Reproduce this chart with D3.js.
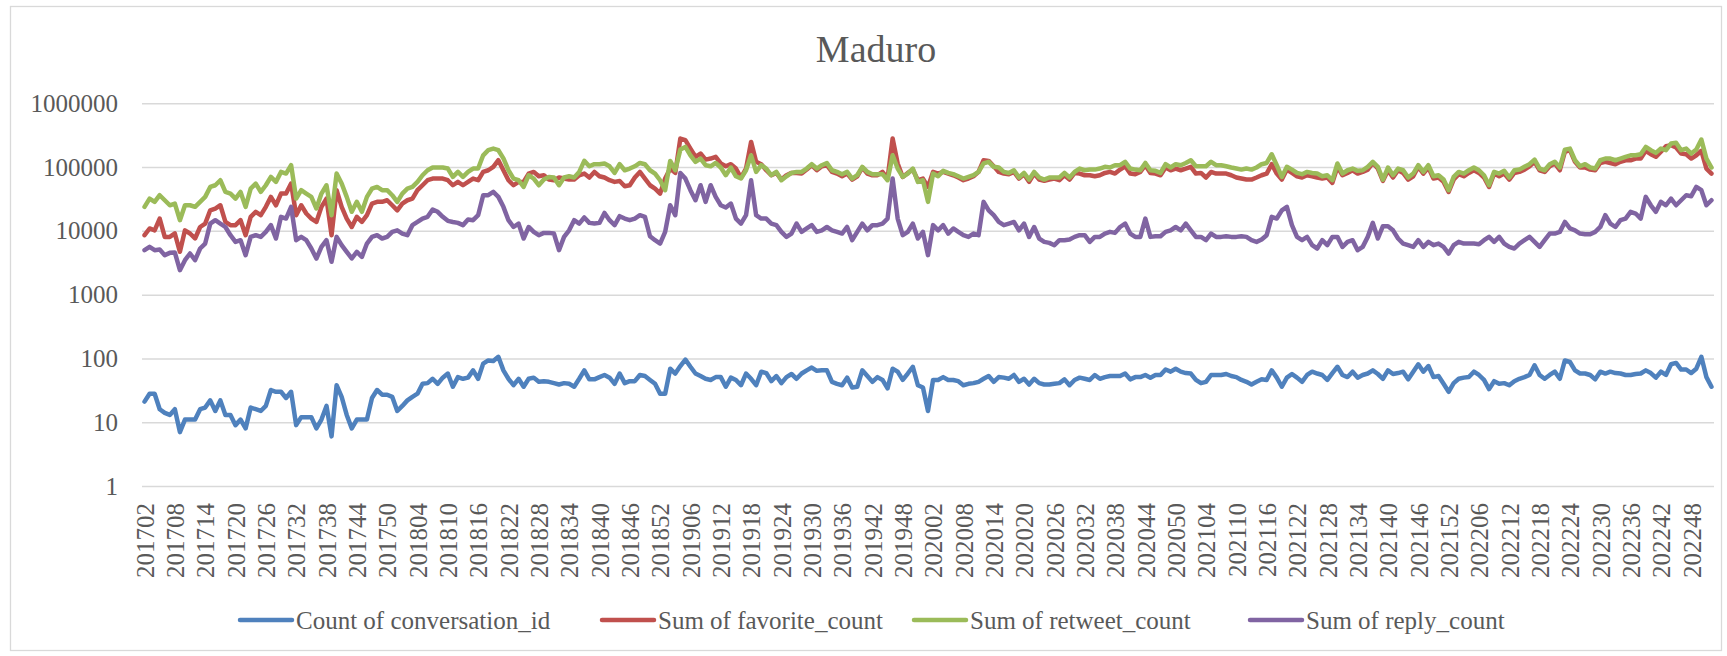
<!DOCTYPE html>
<html>
<head>
<meta charset="utf-8">
<script src="https://cdn.jsdelivr.net/npm/d3@7"></script>
<style>
  body { margin: 0; background: #fff; }
  svg text { font-family: "Liberation Serif", "Times New Roman", serif; fill: #595959; }
</style>
</head>
<body>
<div id="chart"></div>
<script>
// weeks present in the pivot table: [year, first week, last week]
var weekRanges = [[2017, 2, 52], [2018, 1, 52], [2019, 1, 52], [2020, 1, 52], [2021, 1, 52], [2022, 1, 52]];

var tickLabels = ['201702','201708','201714','201720','201726','201732','201738','201744','201750',
  '201804','201810','201816','201822','201828','201834','201840','201846','201852',
  '201906','201912','201918','201924','201930','201936','201942','201948',
  '202002','202008','202014','202020','202026','202032','202038','202044','202050',
  '202104','202110','202116','202122','202128','202134','202140','202146','202152',
  '202206','202212','202218','202224','202230','202236','202242','202248'];

var yTicks = [1, 10, 100, 1000, 10000, 100000, 1000000];

var seriesNames = ['Count of conversation_id', 'Sum of favorite_count', 'Sum of retweet_count', 'Sum of reply_count'];

var conversationCount = [21,28,28,16,14,13,16,7,11,11,11,16,17,22,15,22,13,13,9,11,8,17,16,15,18,32,30,30,24,30,9,12,12,12,8,11,18,6,38,
  25,13,8,11,11,11,24,32,27,27,25,15,18,22,25,28,40,41,48,40,50,58,36,51,48,50,65,48,83,93,91,106,65,48,38,48,36,48,50,
  43,
  44,43,41,39,41,40,36,48,65,47,47,51,55,50,40,58,41,44,44,55,53,46,40,28,28,69,58,76,96,74,58,53,48,46,51,51,36,50,46,
  38,58,48,38,62,59,44,53,41,51,57,48,58,65,72,64,65,65,43,40,38,50,35,36,65,53,43,51,46,34,69,62,46,58,74,38,35,15,46,46,
  51,46,46,44,38,40,41,43,48,53,43,51,50,48,55,43,48,39,48,41,39,39,40,41,47,38,46,50,48,46,55,48,51,53,53,53,58,47,51,
  51,55,50,55,55,67,62,69,62,59,58,46,41,43,55,55,55,57,53,51,46,43,39,43,47,46,65,50,36,50,57,50,43,55,62,58,55,46,59,74,
  55,51,62,50,55,58,65,57,48,65,57,59,62,47,62,81,62,76,51,53,40,30,41,48,50,51,62,55,46,33,44,40,41,38,44,48,51,55,78,
  55,48,55,62,48,93,88,65,58,58,55,47,62,58,62,59,58,55,55,57,58,65,59,50,62,55,81,85,67,67,59,69,106,51,36];

var favoriteSum = [8550,10900,10200,15600,8050,8050,9100,4700,10200,9100,7600,11500,13000,21000,22400,25200,13800,12300,12300,14700,8550,16600,19900,17600,23800,34100,25200,38400,38400,55200,17600,25200,18700,15600,13800,23800,32100,8550,43400,
  23800,15600,11500,16600,13800,17600,26800,28500,28500,30200,25200,21000,26800,30200,32100,43400,51900,62200,66100,66100,66100,62200,51900,58600,51900,58600,66100,62200,84000,89200,101000,128000,89200,62200,51900,58600,58600,79100,84000,
  71800,
  74500,63700,62200,68600,66100,63700,63700,74500,79100,68600,84000,71800,68600,62200,58600,60500,50000,51900,68600,84000,66100,51900,46000,38400,66100,94800,81000,280000,264000,195000,145000,163000,131000,136000,145000,114000,103000,111000,94800,
  68600,94800,248000,121000,111000,89200,74500,81000,63700,74500,81000,81000,79100,91300,107000,89200,103000,107000,84000,79100,71800,79100,63700,71800,98500,79100,74500,74500,84000,66100,280000,114000,70100,81000,91300,62200,66100,48900,84000,79100,
  84000,79100,74500,68600,62200,66100,71800,84000,128000,125000,103000,84000,79100,77400,84000,66100,77400,58600,79100,63700,60800,63700,66100,62200,74500,63700,81000,79100,74500,74500,71800,74500,81000,84000,79100,91300,103000,79100,77400,
  84000,107000,81000,79100,74500,98500,89200,94800,89200,94800,101000,79100,81000,68600,84000,79100,79100,79100,74500,68600,66100,63700,63700,68600,74500,79100,111000,79100,63700,91300,81000,71800,68600,74500,71800,68600,66100,68600,56500,101000,
  74500,81000,89200,79100,84000,91300,116000,94800,60800,89200,68600,89200,81000,63700,71800,101000,79100,98500,66100,68600,58600,40800,63700,77400,71800,81000,89200,81000,68600,48900,79100,71800,79100,63700,81000,84000,91300,103000,121000,
  89200,84000,103000,114000,89200,174000,184000,121000,98500,98500,91300,89200,116000,121000,116000,111000,121000,128000,128000,136000,136000,180000,159000,145000,174000,213000,221000,203000,163000,159000,136000,153000,180000,94800,79100];

var retweetSum = [23800,32100,28500,36200,30200,25200,26800,14700,25200,25200,23800,28500,34100,48900,51900,62200,40800,38400,32100,40800,23800,46000,55200,40800,51900,70100,58600,84000,79100,107000,32100,43400,38400,34100,22400,38400,51900,17600,79100,
  55200,34100,19900,28500,19900,34100,46000,48900,43400,43400,36200,28500,38400,46000,48900,58600,74500,89200,98500,98500,98500,94800,70100,84000,70100,84000,94800,94800,153000,184000,195000,184000,137000,89200,66100,62200,48900,74500,66100,
  51900,
  63700,70100,68600,51900,68600,71800,68600,84000,125000,103000,111000,111000,114000,103000,81000,111000,89200,94800,103000,116000,111000,89200,79100,62200,43400,125000,89200,188000,207000,153000,121000,136000,107000,103000,116000,98500,74500,98500,71800,
  66100,89200,153000,84000,107000,94800,74500,84000,62200,71800,81000,84000,84000,94800,111000,94800,107000,116000,89200,84000,77400,84000,66100,74500,101000,84000,77400,77400,77400,62200,153000,94800,70100,79100,94800,58600,62200,28500,79100,71800,
  87300,81000,77400,71800,66100,70100,74500,84000,114000,121000,101000,98500,84000,81000,89200,68600,81000,63700,84000,68600,63700,68600,68600,68600,81000,68600,84000,94800,89200,91300,91300,94800,101000,98500,107000,107000,121000,94800,91300,
  89200,116000,89200,87300,81000,111000,98500,111000,107000,116000,128000,103000,103000,103000,121000,107000,107000,103000,98500,94800,91300,94800,91300,98500,111000,116000,159000,107000,70100,101000,91300,81000,77400,84000,81000,79100,71800,74500,62200,114000,
  79100,89200,94800,87300,89200,101000,121000,101000,63700,98500,74500,94800,89200,68600,79100,107000,84000,107000,71800,74500,63700,43400,70100,84000,79100,89200,98500,89200,74500,51900,84000,79100,87300,68600,89200,91300,101000,111000,131000,
  94800,89200,111000,121000,98500,188000,195000,128000,103000,111000,98500,94800,128000,136000,136000,128000,136000,145000,153000,153000,159000,207000,184000,167000,195000,184000,234000,240000,184000,195000,163000,188000,270000,136000,98500];

var replySum = [4980,5610,4980,5100,4160,4520,4580,2420,3470,4420,3470,5290,6330,13000,14700,13000,11500,8550,6720,7140,4160,8050,8550,8050,9650,12300,7580,16600,15600,23800,7140,8050,7140,5290,3680,5610,7140,3270,8050,
  5960,4690,3690,4690,3910,6330,8050,8550,7590,8050,9650,10200,9080,8550,12300,13800,15600,16600,21600,19900,16600,14350,13800,13350,12300,15050,14700,17600,36200,36200,40800,34100,23800,14700,11500,13000,7590,11500,9650,
  8550,
  9300,9300,9080,4980,8050,10200,14700,13000,16200,13350,13000,13350,19100,14700,12300,17000,15600,14700,15600,17600,16600,8250,7140,6330,9650,25200,17600,81000,66100,43400,30200,51900,28500,51900,34100,25200,23200,26800,15600,
  13000,17600,62200,17600,15600,15600,13000,12300,9650,8050,9080,13000,9650,10900,12300,9650,10200,11500,10200,9650,9080,11500,7140,9650,13000,10200,12300,12300,13000,15600,66100,15600,8550,9650,13000,7590,9650,4160,12300,10200,
  12300,9080,10900,9650,8550,8050,9080,8550,28500,21000,17600,13800,12300,13000,13800,10200,13000,8050,11500,7590,6720,6490,5960,7140,7140,7320,8050,8550,8550,6720,8050,8050,9080,9650,9300,11500,13000,9080,8050,
  8050,15600,8050,8250,8250,9650,10200,11500,10200,13000,10200,8050,8050,7140,9080,8050,8050,8250,8050,8050,8250,8050,7140,6720,7320,8550,16600,15600,21000,23800,12300,8050,7140,8050,5960,5290,7140,5960,8050,8050,
  5610,6720,7140,4980,5610,8050,13350,7590,11830,11830,10200,7590,6330,5960,5610,7140,5610,6720,5960,6330,5610,4410,5960,6720,6330,6330,6330,6180,7140,8050,6720,8050,6330,5610,5290,6330,7140,8050,6720,
  5610,7140,9080,9080,9650,13800,10900,10200,9080,8870,8870,9650,11500,17600,13000,11500,14700,15600,19900,18700,15600,34100,25200,19900,28500,25200,32100,25200,30200,36200,35000,48900,43400,25200,30200];

var colors = ['#4f81bd', '#c0504d', '#9bbb59', '#8064a2'];

var categories = [];
weekRanges.forEach(function (r) {
  for (var w = r[1]; w <= r[2]; w++) categories.push(String(r[0] * 100 + w));
});

var allSeries = [conversationCount, favoriteSum, retweetSum, replySum];
allSeries.forEach(function (s, k) {
  if (s.length !== categories.length) throw new Error(seriesNames[k] + ' has ' + s.length + ' values, expected ' + categories.length);
});

var W = 1727, H = 656;
var plot = { left: 142, right: 1714, top: 103.3, bottom: 486 };

var svg = d3.select('#chart').append('svg')
  .attr('width', W)
  .attr('height', H);

svg.append('rect')
  .attr('width', W).attr('height', H)
  .attr('fill', '#fff');

// chart area border
svg.append('rect')
  .attr('x', 10.5).attr('y', 6.5)
  .attr('width', 1711).attr('height', 644)
  .attr('fill', 'none')
  .attr('stroke', '#d9d9d9')
  .attr('stroke-width', 1.3);

var xScale = d3.scalePoint()
  .domain(categories)
  .range([plot.left, plot.right])
  .padding(0.5);

var yScale = d3.scaleLog()
  .domain([1, 1000000])
  .range([plot.bottom, plot.top]);

// gridlines
svg.append('g')
  .attr('class', 'grid')
  .attr('transform', `translate(${plot.left}, 0)`)
  .call(d3.axisLeft(yScale)
    .tickValues(yTicks)
    .tickSize(-(plot.right - plot.left))
    .tickFormat(''))
  .call(g => g.select('.domain').remove())
  .call(g => g.selectAll('line').attr('stroke', '#d9d9d9').attr('stroke-width', 1.5));

// y labels
svg.append('g')
  .attr('transform', `translate(${plot.left}, 0)`)
  .call(d3.axisLeft(yScale)
    .tickValues(yTicks)
    .tickSize(0)
    .tickPadding(24)
    .tickFormat((d, i) => String(yTicks[i])))
  .call(g => g.select('.domain').remove())
  .call(g => g.selectAll('text')
    .style('font-size', '25px')
    .style('font-family', '"Liberation Serif", serif')
    .attr('fill', '#595959'));

// x labels, rotated
var xAxis = svg.append('g')
  .attr('transform', `translate(0, ${plot.bottom})`)
  .call(d3.axisBottom(xScale)
    .tickValues(tickLabels)
    .tickSize(0)
    .tickFormat(d => d));

xAxis.select('.domain').remove();
xAxis.selectAll('text')
  .style('font-size', '25px')
  .style('font-family', '"Liberation Serif", serif')
  .attr('fill', '#595959')
  .attr('text-anchor', 'end')
  .attr('transform', 'translate(0, 17) rotate(-90)')
  .attr('x', 0)
  .attr('y', 0)
  .attr('dy', '0.35em');

var line = d3.line()
  .x((d, i) => xScale(categories[i]))
  .y(d => yScale(d));

allSeries.forEach(function (s, k) {
  svg.append('path')
    .datum(s)
    .attr('fill', 'none')
    .attr('stroke', colors[k])
    .attr('stroke-width', 4.5)
    .attr('stroke-linejoin', 'round')
    .attr('stroke-linecap', 'round')
    .attr('d', line);
});

// title
svg.append('text')
  .attr('x', 876)
  .attr('y', 62)
  .attr('text-anchor', 'middle')
  .style('font-size', '38px')
  .text('Maduro');

// legend
var legendX = [240, 602, 914, 1250];
var legend = svg.append('g')
  .selectAll('g')
  .data(seriesNames)
  .enter()
  .append('g')
  .attr('transform', (d, i) => `translate(${legendX[i]}, 620)`);

legend.append('line')
  .attr('x1', 0).attr('x2', 52)
  .attr('stroke', (d, i) => colors[i])
  .attr('stroke-width', 4.5)
  .attr('stroke-linecap', 'round');

legend.append('text')
  .attr('x', 56)
  .attr('dy', '0.35em')
  .style('font-size', '25px')
  .text(d => d);
</script>
</body>
</html>
